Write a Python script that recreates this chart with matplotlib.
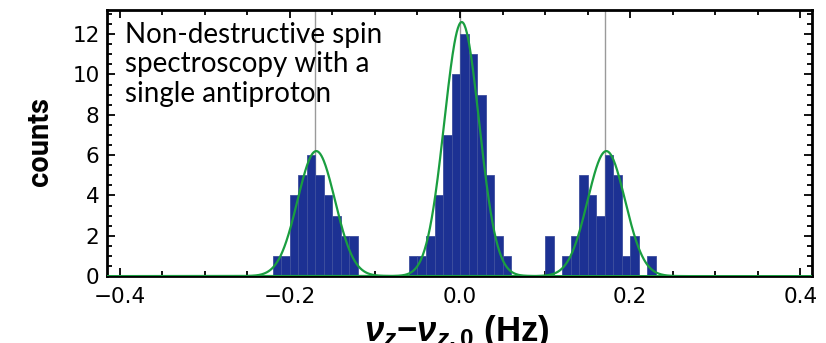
import numpy as np
import matplotlib
matplotlib.use("Agg")
import matplotlib.pyplot as plt
from matplotlib.ticker import MultipleLocator

# histogram data: counts per 0.01 Hz bin, each cluster starting at its first bin edge
bin_width = 0.01
left_start = -0.22
left_counts = [1, 1, 4, 5, 6, 5, 4, 3, 2, 2]
mid_start = -0.06
mid_counts = [1, 1, 2, 4, 7, 10, 12, 11, 9, 5, 2, 1]
right_start = 0.10
right_counts = [2, 0, 1, 2, 5, 4, 3, 6, 5, 1, 2, 0, 1]

# gaussian fit parameters (amplitude, centre, sigma)
fit_amp = [6.2, 12.6, 6.2]
fit_mu = [-0.169, 0.002, 0.172]
fit_sigma = [0.022, 0.0205, 0.022]

# reference lines
ref_lines = [-0.17, 0.0, 0.17]

note = "Non-destructive spin\nspectroscopy with a\nsingle antiproton"

plt.rcParams["mathtext.fontset"] = "custom"
plt.rcParams["mathtext.it"] = "Liberation Sans:italic:bold"
plt.rcParams["mathtext.rm"] = "Liberation Sans:bold"
plt.rcParams["mathtext.bf"] = "Liberation Sans:bold"

fig = plt.figure(figsize=(8.26, 3.43), dpi=100)
ax = fig.add_axes([0.129, 0.195, 0.854, 0.776])

bar_color = "#1c3193"
for start, counts in [(left_start, left_counts), (mid_start, mid_counts), (right_start, right_counts)]:
    lefts = start + bin_width * np.arange(len(counts))
    ax.bar(lefts, counts, width=bin_width, align="edge", color=bar_color,
           edgecolor="#3d4f9e", linewidth=0.6, zorder=2)

for x in ref_lines:
    ax.axvline(x, color="#9a9a9a", lw=1.0, zorder=1)

xs = np.linspace(-0.42, 0.42, 1200)
for a, m, s in zip(fit_amp, fit_mu, fit_sigma):
    ax.plot(xs, a * np.exp(-0.5 * ((xs - m) / s) ** 2), color="#1a9e40", lw=1.6, zorder=3)

ax.set_xlim(-0.4155, 0.4137)
ax.set_ylim(0, 13.2)
ax.xaxis.set_minor_locator(MultipleLocator(0.05))
ax.yaxis.set_major_locator(MultipleLocator(2))
ax.yaxis.set_minor_locator(MultipleLocator(0.5))
ax.set_xticks([-0.4, -0.2, 0.0, 0.2, 0.4])
ax.set_xticklabels(["\u22120.4", "\u22120.2", "0.0", "0.2", "0.4"])
ax.tick_params(which="both", direction="in", top=True, right=True, width=1.3)
ax.tick_params(which="major", length=6, labelsize=15.5, pad=5)
ax.tick_params(axis="x", which="major", pad=8)
ax.tick_params(which="minor", length=3.5)
for sp in ax.spines.values():
    sp.set_linewidth(2)

ax.text(0.026, 0.955, note, transform=ax.transAxes, ha="left", va="top",
        fontsize=20, family=["Lato", "DejaVu Sans"], linespacing=1.17, zorder=4)

fig.text(40 / 826, 1 - 142 / 343, "counts", rotation=90, ha="center", va="center",
         fontsize=21, fontweight="bold", family=["Roboto", "DejaVu Sans"])
fig.text(457 / 826, 1 - 313 / 343, r"$\nu_z$$-$$\nu_{z,0}$ (Hz)", ha="center", va="top",
         fontsize=25, fontweight="bold", family=["Liberation Sans", "DejaVu Sans"])

fig.savefig("out.png", dpi=100)
